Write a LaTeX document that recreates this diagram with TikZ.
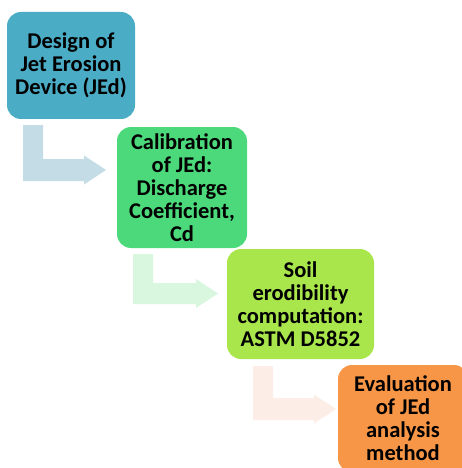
\documentclass[tikz,border=0pt]{standalone}
\usepackage{fontspec}
\setmainfont{Carlito}
\usetikzlibrary{calc}
\definecolor{cA}{HTML}{4BACC6}
\definecolor{cB}{HTML}{4CD97B}
\definecolor{cC}{HTML}{A9E64C}
\definecolor{cD}{HTML}{F79646}
\definecolor{aA}{HTML}{C3DCE6}
\definecolor{aB}{HTML}{D9F6DF}
\definecolor{aC}{HTML}{FDEDE7}
\tikzset{
  stepbox/.style={rounded corners=14pt, align=center, inner sep=0pt,
    font=\bfseries\fontsize{22.5}{23}\selectfont, text=black}
}
\newcommand{\bentarr}[9]{%
  % #1 color, #2 xL, #3 xR, #4 top, #5 yT, #6 yB, #7 head start, #8 tip, #9 head half
  \fill[#1] (#2,#4) -- (#3,#4) -- (#3,#5) -- (#7,#5) -- (#7,{(#5+#6)/2-#9}) -- (#8,{(#5+#6)/2})
    -- (#7,{(#5+#6)/2+#9}) -- (#7,#6) -- (#2,#6) -- cycle;}
\begin{document}
\begin{tikzpicture}[x=1pt,y=-1pt]
\useasboundingbox (0,0) rectangle (462,468);
\clip (0,0) rectangle (462,468);
\bentarr{aA}{23}{43}{125}{159}{181}{84}{106}{14.5}
\bentarr{aB}{133}{153}{254}{283}{304}{196}{218}{14.5}
\bentarr{aC}{253}{273}{366}{398}{420}{314}{336}{14.5}
\node[stepbox, fill=cA, minimum width=128pt, minimum height=107pt] (b1) at (71,65.5)
  {Design of\\Jet Erosion\\Device (JEd)};
\node[stepbox, fill=cB, minimum width=130pt, minimum height=121pt] (b2) at (182,187.5)
  {Calibration\\of JEd:\\Discharge\\Coefficient,\\Cd};
\node[stepbox, fill=cC, minimum width=147pt, minimum height=110pt] (b3) at (300.5,304)
  {Soil\\erodibility\\computation:\\ASTM D5852};
\node[stepbox, fill=cD, minimum width=130pt, minimum height=107pt] (b4) at (403,418.5)
  {Evaluation\\of JEd\\analysis\\method};
\end{tikzpicture}
\end{document}
